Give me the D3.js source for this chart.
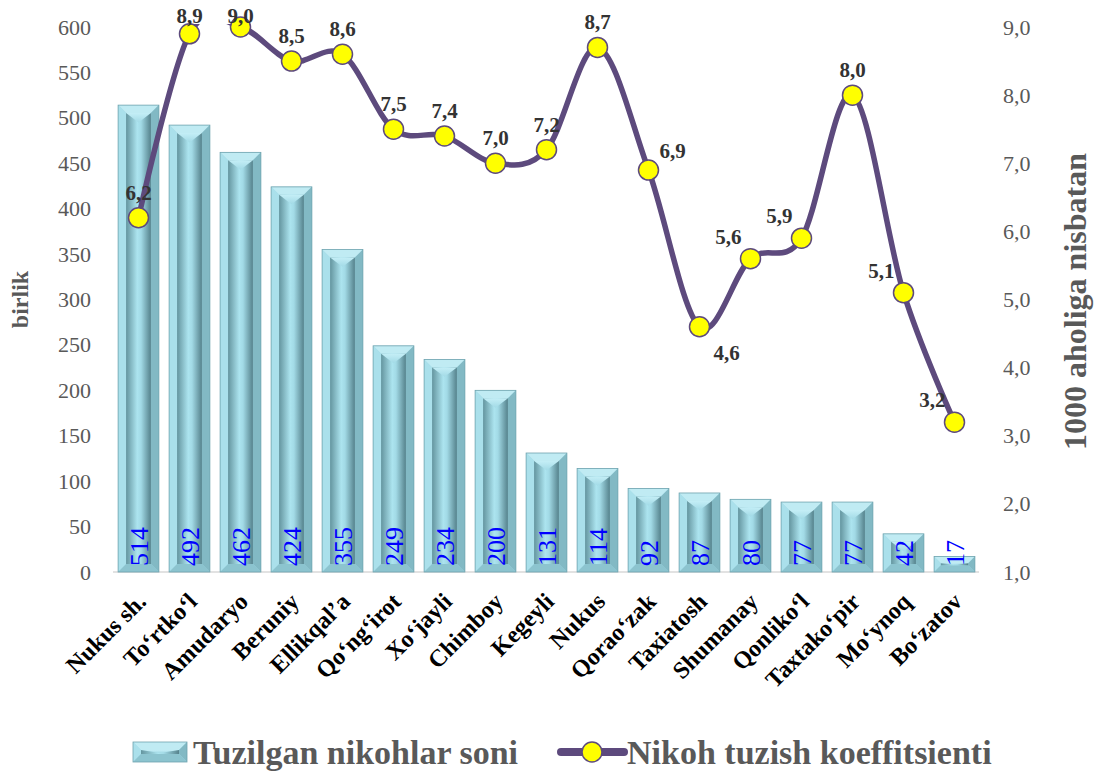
<!DOCTYPE html>
<html>
<head>
<meta charset="utf-8">
<script src="https://cdn.jsdelivr.net/npm/d3@7"></script>
<style>
  html, body { margin: 0; padding: 0; background: #fff; }
  svg { display: block; font-family: 'Liberation Serif', 'Times New Roman', serif; }
</style>
</head>
<body>
<div id="chart"></div>
<script>
const categories = ['Nukus sh.', 'To‘rtko‘l', 'Amudaryo', 'Beruniy', 'Ellikqal’a', 'Qo‘ng‘irot',
  'Xo‘jayli', 'Chimboy', 'Kegeyli', 'Nukus', 'Qorao‘zak', 'Taxiatosh', 'Shumanay',
  'Qonliko‘l', 'Taxtako‘pir', 'Mo‘ynoq', 'Bo‘zatov']
const marriages = [514, 492, 462, 424, 355, 249, 234, 200, 131, 114, 92, 87, 80, 77, 77, 42, 17]
const rate = [6.2, 8.9, 9.0, 8.5, 8.6, 7.5, 7.4, 7.0, 7.2, 8.7, 6.9, 4.6, 5.6, 5.9, 8.0, 5.1, 3.2]
// where each rate label sits relative to its point
const rateLabelSide = ['top', 'top', 'top', 'top', 'top', 'top', 'top', 'top', 'top', 'top',
  'topRight', 'bottomRight', 'topLeft', 'topLeft', 'top', 'topLeft', 'topLeft']
const leftTicks = [0, 50, 100, 150, 200, 250, 300, 350, 400, 450, 500, 550, 600]
const rightTicks = [1, 2, 3, 4, 5, 6, 7, 8, 9]

const W = 1094
const H = 776
const margin = { top: 27, right: 115, bottom: 204, left: 113 }
const lineColor = '#5d4a7d'
const gray = '#595959'

const svg = d3.select('#chart').append('svg')
  .attr('width', W)
  .attr('height', H)

const defs = svg.append('defs')
const face = defs.append('linearGradient').attr('id', 'face')
face.append('stop').attr('offset', '0%').attr('stop-color', '#64959f')
face.append('stop').attr('offset', '45%').attr('stop-color', '#ace4ef')
face.append('stop').attr('offset', '60%').attr('stop-color', '#a2dae6')
face.append('stop').attr('offset', '100%').attr('stop-color', '#55828c')

const chev = defs.append('linearGradient').attr('id', 'chev').attr('x2', 0).attr('y2', 1)
chev.append('stop').attr('offset', '0%').attr('stop-color', '#c4eef6')
chev.append('stop').attr('offset', '100%').attr('stop-color', '#a2dae6')

defs.append('clipPath').attr('id', 'plotClip')
  .append('rect').attr('x', 0).attr('y', margin.top - 3).attr('width', W).attr('height', H)

const x = d3.scaleBand()
  .domain(categories)
  .range([margin.left, W - margin.right + 1])
  .paddingInner(0.2)
  .paddingOuter(0.1)

const y = d3.scaleLinear().domain([0, 600]).range([572, margin.top])
const y2 = d3.scaleLinear().domain([1, 9]).range([572, margin.top])

// baseline
svg.append('line')
  .attr('x1', margin.left).attr('x2', W - margin.right)
  .attr('y1', y(0)).attr('y2', y(0))
  .attr('stroke', '#d9d9d9').attr('stroke-width', 1.5)

// left axis
const yAxis = d3.axisLeft(y).tickValues(leftTicks).tickSize(0).tickPadding(0)
svg.append('g')
  .attr('transform', `translate(${margin.left - 22}, 0)`)
  .call(yAxis)
  .call((g) => g.select('.domain').remove())
  .selectAll('text')
    .attr('fill', gray)
    .style('font-size', '22px')
    .style('font-family', "'Liberation Serif', serif")

// right axis
const y2Axis = d3.axisRight(y2).tickValues(rightTicks).tickSize(0).tickPadding(0)
  .tickFormat((d) => d3.format('.1f')(d).replace('.', ','))
svg.append('g')
  .attr('transform', `translate(${W - margin.right + 24}, 0)`)
  .call(y2Axis)
  .call((g) => g.select('.domain').remove())
  .selectAll('text')
    .attr('fill', gray)
    .style('font-size', '22px')
    .style('font-family', "'Liberation Serif', serif")

// axis titles
svg.append('text')
  .attr('transform', `translate(28, ${(margin.top + y(0)) / 2}) rotate(-90)`)
  .attr('text-anchor', 'middle')
  .attr('fill', gray)
  .style('font-size', '24px')
  .style('font-weight', 'bold')
  .text('birlik')

svg.append('text')
  .attr('transform', `translate(1086, ${(margin.top + y(0)) / 2 + 2}) rotate(-90)`)
  .attr('text-anchor', 'middle')
  .attr('fill', gray)
  .style('font-size', '32px')
  .style('font-weight', 'bold')
  .text('1000 aholiga nisbatan')

// bevelled bars
function drawBar (g, x0, y0, w, h) {
  const b = Math.max(1, Math.min(8, h / 2 - 1))
  const x1 = x0 + w
  const y1 = y0 + h
  const pts = (a) => a.map((p) => p.join(',')).join(' ')
  g.append('rect').attr('x', x0).attr('y', y0).attr('width', w).attr('height', h)
    .attr('fill', '#a2d9e5')
  g.append('polygon').attr('points', pts([[x0, y0], [x1, y0], [x1 - b, y0 + b], [x0 + b, y0 + b]]))
    .attr('fill', '#c0ebf3')
  g.append('polygon').attr('points', pts([[x0, y0], [x0 + b, y0 + b], [x0 + b, y1 - b], [x0, y1]]))
    .attr('fill', '#aae0eb')
  g.append('polygon').attr('points', pts([[x1, y0], [x1 - b, y0 + b], [x1 - b, y1 - b], [x1, y1]]))
    .attr('fill', '#82b9c4')
  g.append('polygon').attr('points', pts([[x0, y1], [x0 + b, y1 - b], [x1 - b, y1 - b], [x1, y1]]))
    .attr('fill', '#8cc4cf')
  if (h - 2 * b > 1) {
    g.append('rect').attr('x', x0 + b).attr('y', y0 + b).attr('width', w - 2 * b).attr('height', h - 2 * b)
      .attr('fill', 'url(#face)')
    const iw = w - 2 * b
    const ch = Math.min(iw / 2, h - 2 * b)
    g.append('polygon').attr('points', pts([[x0 + b, y0 + b], [x1 - b, y0 + b], [x0 + w / 2, y0 + b + ch * 0.75]]))
      .attr('fill', 'url(#chev)')
  }
  g.append('rect').attr('x', x0).attr('y', y0).attr('width', w).attr('height', h)
    .attr('fill', 'none').attr('stroke', '#6fa3ae').attr('stroke-width', 0.8)
}

const bars = svg.append('g').selectAll('.bar')
  .data(categories.map((c, i) => ({ name: c, value: marriages[i] })))
  .enter().append('g')
  .attr('class', 'bar')
  .each(function (d) {
    drawBar(d3.select(this), x(d.name), y(d.value), x.bandwidth(), y(0) - y(d.value))
  })

bars.append('text')
  .attr('transform', (d) => `translate(${x(d.name) + x.bandwidth() / 2 + 9}, ${y(0) - 6}) rotate(-90)`)
  .attr('fill', '#0000ff')
  .style('font-size', '26px')
  .text((d) => d.value)

// x labels
svg.append('g').selectAll('text')
  .data(categories)
  .enter().append('text')
  .attr('transform', (d) => `translate(${x(d) + x.bandwidth() / 2 + 9}, 603) rotate(-45)`)
  .attr('text-anchor', 'end')
  .attr('fill', '#000')
  .style('font-size', '24px')
  .style('font-weight', 'bold')
  .text((d) => d)

// rate line
const pts = rate.map((v, i) => [x(categories[i]) + x.bandwidth() / 2, y2(v)])
const line = d3.line().curve(d3.curveCatmullRom.alpha(0))
svg.append('path')
  .attr('d', line(pts))
  .attr('clip-path', 'url(#plotClip)')
  .attr('fill', 'none')
  .attr('stroke', lineColor)
  .attr('stroke-width', 5.5)
  .attr('stroke-linejoin', 'round')

svg.append('g').selectAll('circle')
  .data(pts)
  .enter().append('circle')
  .attr('cx', (d) => d[0]).attr('cy', (d) => d[1])
  .attr('r', 10)
  .attr('fill', '#ffff00')
  .attr('stroke', lineColor)
  .attr('stroke-width', 1.5)

const side = {
  top: { dx: 0, dy: -18, anchor: 'middle' },
  topLeft: { dx: -9, dy: -15, anchor: 'end' },
  topRight: { dx: 11, dy: -12, anchor: 'start' },
  bottomRight: { dx: 14, dy: 33, anchor: 'start' }
}

svg.append('g').selectAll('text')
  .data(rate)
  .enter().append('text')
  .attr('x', (d, i) => pts[i][0] + side[rateLabelSide[i]].dx)
  .attr('y', (d, i) => Math.max(23, pts[i][1] + side[rateLabelSide[i]].dy))
  .attr('text-anchor', (d, i) => side[rateLabelSide[i]].anchor)
  .attr('fill', '#333')
  .style('font-size', '21px')
  .style('font-weight', 'bold')
  .text((d) => d3.format('.1f')(d).replace('.', ','))

// legend
const legend = svg.append('g').attr('transform', 'translate(0, 752)')
drawBar(legend.append('g'), 133, -10, 54, 20)
legend.append('text')
  .attr('x', 193).attr('y', 12)
  .attr('fill', gray)
  .style('font-size', '34px')
  .style('font-weight', 'bold')
  .text('Tuzilgan nikohlar soni')

legend.append('line')
  .attr('x1', 561).attr('x2', 624)
  .attr('stroke', lineColor).attr('stroke-width', 8).attr('stroke-linecap', 'round')
legend.append('circle')
  .attr('cx', 592).attr('r', 10)
  .attr('fill', '#ffff00').attr('stroke', lineColor).attr('stroke-width', 1.5)
legend.append('text')
  .attr('x', 627).attr('y', 12)
  .attr('fill', gray)
  .style('font-size', '34px')
  .style('font-weight', 'bold')
  .text('Nikoh tuzish koeffitsienti')
</script>
</body>
</html>
